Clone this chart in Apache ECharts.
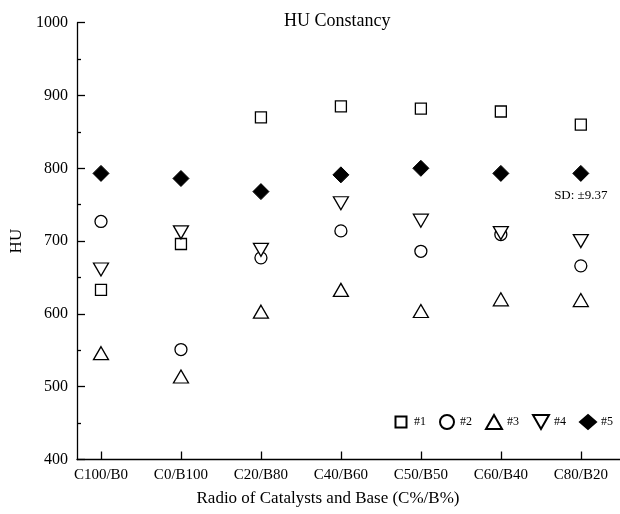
<!DOCTYPE html>
<html>
<head>
<meta charset="utf-8">
<script src="https://cdn.jsdelivr.net/npm/echarts@6/dist/echarts.min.js"></script>
<style>html,body{margin:0;padding:0;background:#fff}#c{width:620px;height:514px}</style>
</head>
<body>
<div id="c"></div>
<script>
const categories = ['C100/B0', 'C0/B100', 'C20/B80', 'C40/B60', 'C50/B50', 'C60/B40', 'C80/B20'];
const s1 = [633, 696, 870, 885, 882, 878, 860];
const s2 = [727, 551, 677, 714, 686, 709, 666];
const s3 = [546, 514, 603, 633, 604, 620, 619];
const s4 = [661, 712, 688, 752, 728, 711, 700];
const s5 = [793, 786, 768, 791, 800, 793, 793];
const yTicks = [400, 500, 600, 700, 800, 900, 1000];
const sdText = 'SD: ±9.37';

const FONT = 'Liberation Serif';
const chart = echarts.init(document.getElementById('c'), null, {renderer: 'canvas'});
const pts = arr => arr.map((v, i) => [i, v]);
const hollow = {color: '#fff', borderColor: '#000', borderWidth: 1.3, opacity: 1};
const downTri = 'path://M0,0 L16,0 L8,14 Z';
const sqIcon = 'path://M0,0 M16,14 M2.5,1.5 L13.5,1.5 L13.5,12.5 L2.5,12.5 Z';

const d5 = pts(s5).map((p, i) => i === s5.length - 1 ? {
  value: p,
  label: {show: true, position: 'bottom', distance: 7, formatter: sdText,
          fontFamily: FONT, fontSize: 13, color: '#000'}
} : p);

chart.setOption({
  animation: false,
  backgroundColor: '#fff',
  title: {
    text: 'HU Constancy', left: 284, top: 12, padding: 0,
    textStyle: {fontFamily: FONT, fontSize: 18, fontWeight: 'normal', color: '#000'}
  },
  legend: {
    left: 387, top: 409, itemWidth: 16, itemHeight: 14, itemGap: 13,
    textStyle: {fontFamily: FONT, fontSize: 12, color: '#000'},
    data: [{name: '#1', icon: sqIcon}, {name: '#2', icon: 'circle'}, {name: '#3', icon: 'triangle'},
           {name: '#4', icon: downTri}, {name: '#5', icon: 'diamond'}]
  },
  grid: {left: 77, right: 0, top: 22.7, bottom: 54.5, containLabel: false},
  xAxis: {
    type: 'value', min: -0.3, max: 6.49,
    name: 'Radio of Catalysts and Base (C%/B%)', nameLocation: 'middle', nameGap: 31,
    nameTextStyle: {fontFamily: FONT, fontSize: 17, color: '#000', padding: [0, 41, 0, 0]},
    axisLine: {onZero: false, lineStyle: {color: '#000', width: 1.3}},
    axisTick: {inside: true, length: 8, customValues: categories.map((c, i) => i),
               lineStyle: {color: '#000', width: 1.3}},
    axisLabel: {customValues: categories.map((c, i) => i), margin: 8,
                formatter: v => categories[Math.round(v)],
                fontFamily: FONT, fontSize: 15, color: '#000'},
    splitLine: {show: false}
  },
  yAxis: {
    type: 'value', min: yTicks[0], max: yTicks[yTicks.length - 1], interval: 100,
    name: 'HU', nameLocation: 'middle', nameGap: 46, nameRotate: 90,
    nameTextStyle: {fontFamily: FONT, fontSize: 17, color: '#000'},
    axisLine: {show: true, onZero: false, lineStyle: {color: '#000', width: 1.3}},
    axisTick: {show: true, inside: true, length: 8, lineStyle: {color: '#000', width: 1.3}},
    minorTick: {show: true, splitNumber: 2, length: 4, lineStyle: {color: '#000', width: 1.3}},
    axisLabel: {margin: 9, fontFamily: FONT, fontSize: 16, color: '#000', formatter: v => String(v)},
    splitLine: {show: false}
  },
  series: [
    {name: '#1', type: 'scatter', symbol: 'rect', symbolSize: 11, itemStyle: hollow, data: pts(s1), z: 3},
    {name: '#2', type: 'scatter', symbol: 'circle', symbolSize: 12, itemStyle: hollow, data: pts(s2), z: 3},
    {name: '#3', type: 'scatter', symbol: 'triangle', symbolSize: [15, 13], itemStyle: hollow, data: pts(s3), z: 3},
    {name: '#4', type: 'scatter', symbol: 'triangle', symbolRotate: 180, symbolSize: [15, 13], itemStyle: hollow, data: pts(s4), z: 3},
    {name: '#5', type: 'scatter', symbol: 'diamond', symbolSize: 16, itemStyle: {color: '#000', borderColor: '#000', borderWidth: 1, opacity: 1}, data: d5, z: 4}
  ]
});
</script>
</body>
</html>
